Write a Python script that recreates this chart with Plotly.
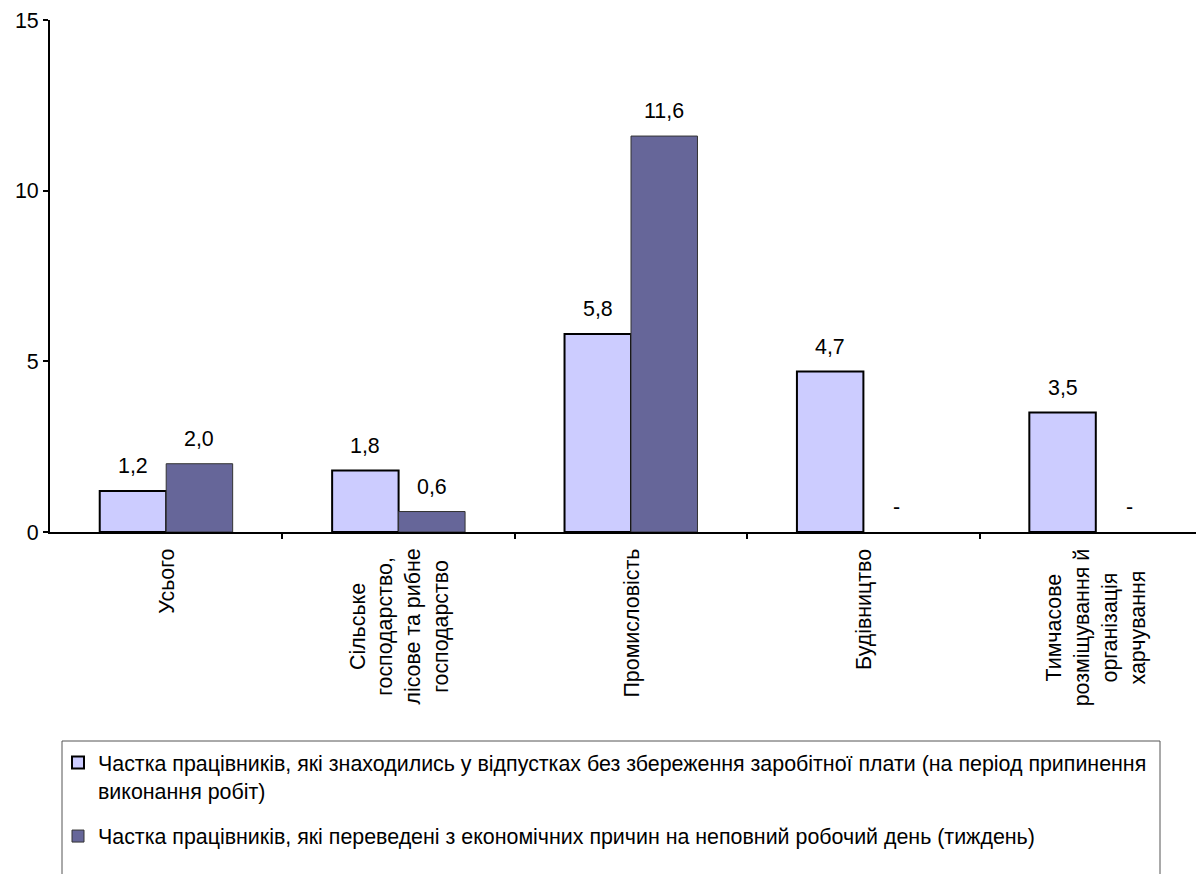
import plotly.graph_objects as go

categories = ["Усього",
              "Сільське<br>господарство,<br>лісове та рибне<br>господарство",
              "Промисловість",
              "Будівництво",
              "Тимчасове<br>розміщування й<br>організація<br>харчування"]
series_names = ["Частка працівників, які знаходились у відпустках без збереження заробітної плати (на період припинення<br>виконання робіт)",
                "Частка працівників, які переведені з економічних причин на неповний робочий день (тиждень)"]
values_leave = [1.2, 1.8, 5.8, 4.7, 3.5]
values_parttime = [2.0, 0.6, 11.6, None, None]
y_ticks = [0, 5, 10, 15]

FONT = "Arial, Liberation Sans, sans-serif"
FS = 21.4
W, H = 1204, 874
OFF = 8  # page offset of the figure
ML, MR, MT, MB = 42, 0, 12, 350
plot_w = W - ML - MR
plot_h = H - MT - MB
n_cat = len(categories)
cat_px = plot_w / n_cat
bargap = 0.428
bar_px = cat_px * (1 - bargap) / 2

idx = list(range(n_cat))

fig = go.Figure()
fig.add_trace(go.Bar(
    x=idx, y=values_leave, name=series_names[0],
    marker=dict(color="#CCCCFF", line=dict(color="#000000", width=2)),
    legendgroup="a"))
fig.add_trace(go.Bar(
    x=idx, y=values_parttime, name=series_names[1],
    marker=dict(color="#666699", line=dict(color="#333333", width=1)),
    legendgroup="b"))

def fmt(v):
    return "-" if v is None else f"{v:.1f}".replace(".", ",")

annotations = []
for series, shift in ((values_leave, -bar_px / 2), (values_parttime, bar_px / 2)):
    for i, v in zip(idx, series):
        annotations.append(dict(
            x=i, y=0 if v is None else v, xref="x", yref="y",
            text=fmt(v), showarrow=False, xshift=shift, yshift=25,
            yanchor="middle", font=dict(family=FONT, size=FS, color="#000")))

for i, c in zip(idx, categories):
    annotations.append(dict(
        x=i, y=0, xref="x", yref="paper", text=c, showarrow=False,
        textangle=-90, align="center", xanchor="center", yanchor="top",
        yshift=-15, font=dict(family=FONT, size=FS, color="#000")))

def px_x(page_px):
    return (page_px - OFF - ML) / plot_w

def px_y(page_py):
    return (H - MB - (page_py - OFF)) / plot_h

fig.add_shape(type="rect", xref="paper", yref="paper",
              x0=px_x(62), x1=px_x(1160),
              y0=px_y(741), y1=px_y(900),
              line=dict(color="#555555", width=1), fillcolor="rgba(0,0,0,0)")

fig.update_layout(
    width=W, height=H,
    margin=dict(l=ML, r=MR, t=MT, b=MB, pad=0),
    plot_bgcolor="white", paper_bgcolor="white",
    barmode="group", bargap=bargap, bargroupgap=0,
    font=dict(family=FONT, size=FS, color="#000"),
    showlegend=True,
    legend=dict(x=px_x(58), y=px_y(742), xanchor="left", yanchor="top",
                font=dict(family=FONT, size=FS, color="#000"),
                bgcolor="rgba(0,0,0,0)", borderwidth=0, valign="top",
                tracegroupgap=15, itemwidth=30, traceorder="grouped"),
    annotations=annotations,
    xaxis=dict(range=[-0.5, n_cat - 0.5], tickmode="array",
               tickvals=[i + 0.5 for i in idx], ticktext=[""] * n_cat,
               ticks="outside", ticklen=5, tickwidth=2, tickcolor="#000",
               showline=True, linecolor="#000", linewidth=2,
               showgrid=False, zeroline=False, fixedrange=True),
    yaxis=dict(range=[0, 15], tickvals=y_ticks, ticks="outside", ticklen=5,
               tickwidth=2, tickcolor="#000", showline=True, linecolor="#000",
               linewidth=2, showgrid=False, zeroline=False,
               tickfont=dict(family=FONT, size=FS, color="#000")),
)

fig.write_html("out.html")
